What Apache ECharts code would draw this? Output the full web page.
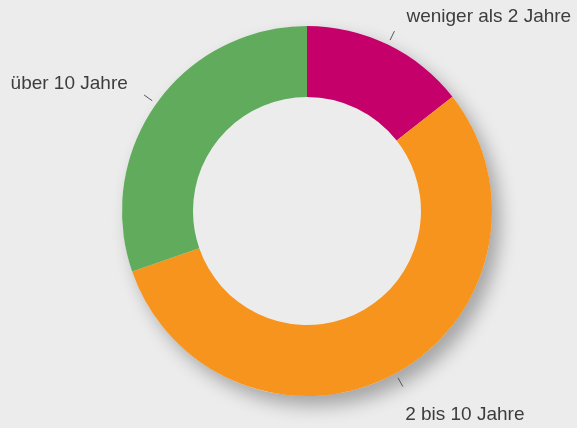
<!DOCTYPE html>
<html>
<head>
<meta charset="utf-8">
<script src="https://cdn.jsdelivr.net/npm/echarts@6/dist/echarts.min.js"></script>
<style>
  html, body { margin: 0; padding: 0; background: #ececec; }
  #chart { width: 577px; height: 428px; }
</style>
</head>
<body>
<div id="chart"></div>
<script>
// Anteile in Prozent
const categories = ['weniger als 2 Jahre', '2 bis 10 Jahre', 'über 10 Jahre'];
const shares = [14.4, 55.3, 30.3];
const colors = ['#c5006b', '#f7941e', '#60ab5c'];

// label distance along the radius / sideways, per slice
const labelReach = [[31, 0], [47, -18], [35, -5]];

const chart = echarts.init(document.getElementById('chart'));
const center = [307, 211];

const option = {
  backgroundColor: '#ececec',
  animation: false,
  series: [
    {
      // full disc underneath, only for the drop shadow
      type: 'pie',
      silent: true,
      center: center,
      radius: [0, 185],
      z: 1,
      label: { show: false },
      labelLine: { show: false },
      itemStyle: {
        color: '#ececec',
        shadowBlur: 18,
        shadowOffsetX: 8,
        shadowOffsetY: 10,
        shadowColor: 'rgba(0,0,0,0.3)'
      },
      data: [{ value: 1 }]
    },
    {
      // short tick lines, a bit away from the ring
      type: 'pie',
      silent: true,
      center: center,
      radius: [180, 190],
      z: 2,
      avoidLabelOverlap: false,
      itemStyle: { color: 'rgba(0,0,0,0)' },
      label: { show: true, formatter: ' ', fontSize: 1 },
      labelLine: {
        show: true,
        length: 10,
        length2: 0,
        lineStyle: { color: '#555', width: 1 }
      },
      data: shares.map((v, i) => ({ value: v, name: categories[i] }))
    },
    {
      type: 'pie',
      center: center,
      radius: [114, 185],
      z: 3,
      avoidLabelOverlap: false,
      label: {
        show: true,
        position: 'outside',
        formatter: '{b}',
        color: '#3d3d3d',
        fontSize: 19,
        fontFamily: 'Liberation Sans, Arial, sans-serif'
      },
      labelLine: { show: false },
      itemStyle: { borderWidth: 0 },
      emphasis: { scale: false },
      data: shares.map((v, i) => ({
        value: v,
        name: categories[i],
        itemStyle: { color: colors[i] },
        labelLine: { show: false, length: labelReach[i][0], length2: labelReach[i][1] }
      }))
    }
  ]
};

chart.setOption(option);
</script>
</body>
</html>
